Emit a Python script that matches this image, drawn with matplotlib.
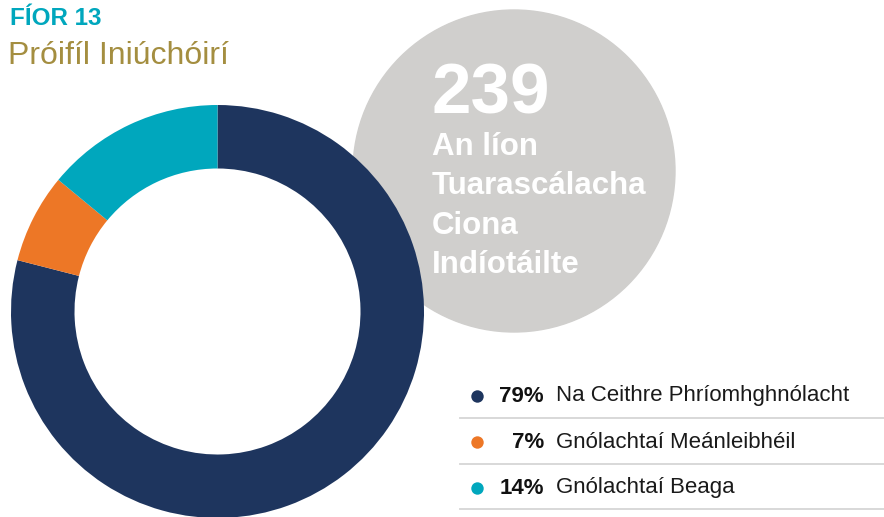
import matplotlib.pyplot as plt
from matplotlib.patches import Circle

# data
shares = [79, 7, 14]
labels = ['Na Ceithre Phríomhghnólacht', 'Gnólachtaí Meánleibhéil', 'Gnólachtaí Beaga']
pct_text = ['79%', '7%', '14%']
colors = ['#1e355e', '#ed7726', '#00a7bd']
total = '239'
total_lines = ['An líon', 'Tuarascálacha', 'Ciona', 'Indíotáilte']

plt.rcParams['font.family'] = ['Liberation Sans', 'DejaVu Sans']

W, H = 884, 517
fig = plt.figure(figsize=(W / 100, H / 100), dpi=100)
ax = fig.add_axes([0, 0, 1, 1])

# grey bubble behind the ring
ax.add_patch(Circle((514, H - 171), 161, color='#d0cfcd', zorder=0))

ax.pie(shares, colors=colors, startangle=90, counterclock=False,
       center=(217.5, H - 311.5), radius=206.5,
       wedgeprops=dict(width=63.5, linewidth=0))

ax.set_xlim(0, W)
ax.set_ylim(0, H)
ax.set_aspect('equal')
ax.axis('off')

ax.text(10, H - 25, 'FÍOR 13', color='#00a7bd', fontsize=17.5, fontweight='bold')
ax.text(8, H - 64, 'Próifíl Iniúchóirí', color='#a48e40', fontsize=23)

ax.text(431, H - 113, total, color='white', fontsize=51, fontweight='bold')
for i, line in enumerate(total_lines):
    ax.text(432, H - 155 - i * 39.3, line, color='white', fontsize=22.5, fontweight='bold')

# legend rows
row_y = [396, 442, 488]
for i in range(3):
    y = H - row_y[i]
    ax.scatter([477], [y], s=80, color=colors[i], zorder=3, linewidths=0)
    ax.text(544, y, pct_text[i], ha='right', va='center', fontsize=16, fontweight='bold',
            color='#111111')
    ax.text(556, y, labels[i], ha='left', va='center', fontsize=16, color='#1a1a1a')
for ly in [418, 464, 509]:
    ax.plot([460, W], [H - ly, H - ly], color='#d5d5d5', lw=1.3)

fig.savefig('out.png', dpi=100)
